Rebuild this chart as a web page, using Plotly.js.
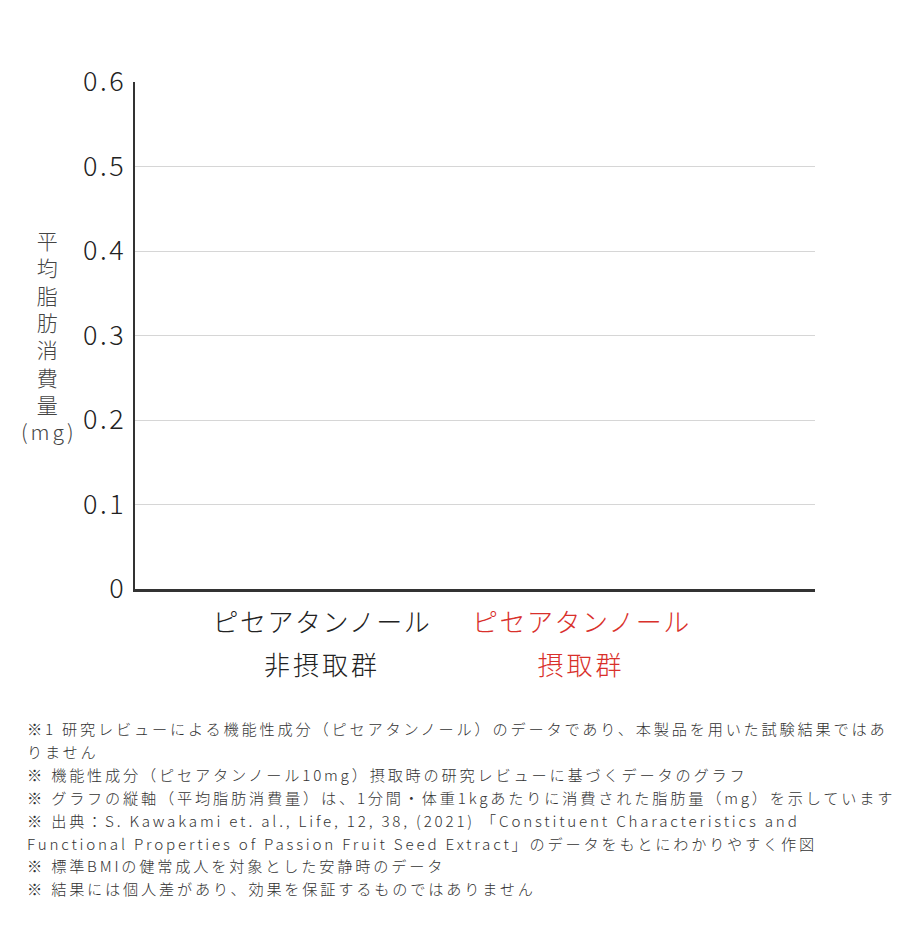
<!DOCTYPE html>
<html>
<head>
<meta charset="utf-8">
<script src="https://cdn.plot.ly/plotly-3.0.1.min.js"></script>
<style>
  html, body { margin: 0; padding: 0; background: #fff; }
  #plot { width: 908px; height: 932px; }
  /* wide tracking like the reference typeface */
  #plot .ytick text { letter-spacing: 2.5px; }
  #plot .xtick text { letter-spacing: 1.5px; }
  #plot .annotation.cat2 text { letter-spacing: 3px; }
  #plot .annotation.ytitle text { letter-spacing: 3px; }
  #plot .annotation.note text { letter-spacing: 2.8px; }
</style>
</head>
<body>
<div id="plot"></div>
<script>
// Categories and values (no bars are drawn in the reference, so values are 0)
const categories = ['非摂取群', '摂取群'];
const catLine1 = ['ピセアタンノール', 'ピセアタンノール'];
const catColors = ['#222222', '#d9302b'];
const values = [0, 0];

const yTickVals = [0, 0.1, 0.2, 0.3, 0.4, 0.5, 0.6];
const yTickText = ['0', '0.1', '0.2', '0.3', '0.4', '0.5', '0.6'];

const yTitleChars = ['平', '均', '脂', '肪', '消', '費', '量', '(mg)'];

const footnotes = [
  '※1 研究レビューによる機能性成分（ピセアタンノール）のデータであり、本製品を用いた試験結果ではあ',
  'りません',
  '※ 機能性成分（ピセアタンノール10mg）摂取時の研究レビューに基づくデータのグラフ',
  '※ グラフの縦軸（平均脂肪消費量）は、1分間・体重1kgあたりに消費された脂肪量（mg）を示しています',
  '※ 出典：S. Kawakami et. al., Life, 12, 38, (2021) 「Constituent Characteristics and',
  'Functional Properties of Passion Fruit Seed Extract」のデータをもとにわかりやすく作図',
  '※ 標準BMIの健常成人を対象とした安静時のデータ',
  '※ 結果には個人差があり、効果を保証するものではありません'
];

const FONT = '"Noto Sans CJK JP", "Noto Sans", sans-serif';
const PLOT_TOP = 82, PLOT_BOTTOM = 589;
const PLOT_H = PLOT_BOTTOM - PLOT_TOP;

// pixel row (from the top of the page) -> paper y
function py(px) { return (PLOT_BOTTOM - px) / PLOT_H; }

const data = [{
  type: 'bar',
  x: categories,
  y: values,
  marker: { color: catColors, line: { width: 0 } },
  width: 0.5,
  hoverinfo: 'skip',
  showlegend: false
}];

const annotations = [];

// second line of each category label
categories.forEach((c, i) => {
  annotations.push({
    xref: 'x', yref: 'paper',
    x: c, y: py(663),
    xanchor: 'center', yanchor: 'middle',
    text: c,
    showarrow: false,
    font: { family: FONT, size: 26, color: catColors[i], weight: 300 },
    _cls: 'cat2'
  });
});

// vertical y-axis title
annotations.push({
  xref: 'paper', yref: 'paper',
  x: -0.126, y: py(335),
  xanchor: 'center', yanchor: 'middle',
  text: yTitleChars.join('<br>'),
  showarrow: false,
  align: 'center',
  font: { family: FONT, size: 21, color: '#444444', weight: 300 },
  _cls: 'ytitle'
});

// footnotes, one annotation per line
footnotes.forEach((line, i) => {
  annotations.push({
    xref: 'paper', yref: 'paper',
    x: -0.162, y: py(728 + i * 22.9),
    xanchor: 'left', yanchor: 'middle',
    text: line,
    showarrow: false,
    align: 'left',
    font: { family: FONT, size: 15.2, color: '#333333', weight: 300 },
    _cls: 'note'
  });
});

const classes = annotations.map(a => a._cls);
annotations.forEach(a => { delete a._cls; });

const layout = {
  width: 908,
  height: 932,
  autosize: false,
  margin: { l: 135, r: 93, t: PLOT_TOP, b: 932 - PLOT_BOTTOM },
  paper_bgcolor: '#ffffff',
  plot_bgcolor: '#ffffff',
  font: { family: FONT, color: '#222222' },
  showlegend: false,
  hovermode: false,
  xaxis: {
    type: 'category',
    range: [-0.72, 1.9],
    tickmode: 'array',
    tickvals: categories,
    ticktext: catLine1.map((t, i) => '<span style="color:' + catColors[i] + '">' + t + '</span>'),
    tickfont: { family: FONT, size: 26, color: '#222222', weight: 300 },
    ticklabelstandoff: 9,
    showgrid: false,
    zeroline: false,
    showline: true,
    linecolor: '#333333',
    linewidth: 3,
    ticks: '',
    fixedrange: true
  },
  yaxis: {
    range: [0, 0.6],
    tickmode: 'array',
    tickvals: yTickVals,
    ticktext: yTickText,
    tickfont: { family: FONT, size: 27, color: '#222222', weight: 300 },
    ticklabelstandoff: 1,
    showgrid: true,
    gridcolor: '#d6d6d6',
    gridwidth: 1,
    zeroline: false,
    showline: true,
    linecolor: '#333333',
    linewidth: 2.5,
    ticks: '',
    fixedrange: true
  },
  annotations: annotations
};

Plotly.newPlot('plot', data, layout, { displayModeBar: false, staticPlot: true }).then(gd => {
  // tag annotation groups so the CSS tracking rules above can reach them
  gd.querySelectorAll('.annotation').forEach(g => {
    const idx = +g.getAttribute('data-index');
    if (classes[idx]) g.classList.add(classes[idx]);
  });
});
</script>
</body>
</html>
